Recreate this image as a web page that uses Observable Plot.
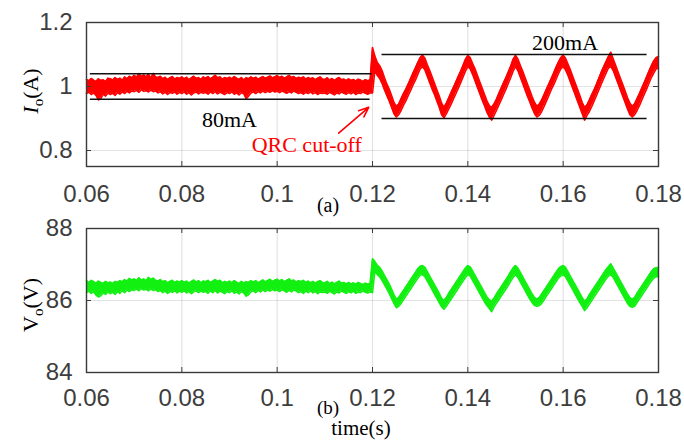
<!DOCTYPE html>
<html>
<head>
<meta charset="utf-8">
<script src="https://cdn.jsdelivr.net/npm/d3@7"></script>
<script src="https://cdn.jsdelivr.net/npm/@observablehq/plot@0.6"></script>
<style>
  body { margin: 0; background: #fff; }
  #chart svg { display: block; }
</style>
</head>
<body>
<div id="chart"></div>
<script>
// Scope record: output current Io and output voltage Vo, sampled every 0.5 ms.
// Each sample keeps the lower and upper edge of the noisy trace.
const sampleStart = 0.06;
const sampleStep = 0.0005;

const timeTicks = [0.06, 0.08, 0.1, 0.12, 0.14, 0.16, 0.18];
const ioTicks = [0.8, 1, 1.2];
const voTicks = [84, 86, 88];

// Io (A), 0.060 .. 0.1195 s: QRC active, then 0.120 .. 0.180 s: QRC cut-off
const ioLo = [
  0.978,0.982,0.975,0.980,0.972,0.958,0.962,0.976,0.970,0.980,
  0.975,0.979,0.972,0.981,0.976,0.983,0.978,0.985,0.980,0.986,
  0.984,0.988,0.982,0.990,0.985,0.987,0.983,0.989,0.984,0.986,
  0.980,0.984,0.977,0.982,0.975,0.981,0.979,0.983,0.976,0.982,
  0.978,0.983,0.976,0.981,0.974,0.980,0.983,0.977,0.982,0.979,
  0.981,0.976,0.983,0.978,0.984,0.977,0.982,0.979,0.975,0.981,
  0.978,0.983,0.976,0.980,0.974,0.981,0.977,0.962,0.970,0.980,
  0.983,0.978,0.984,0.980,0.986,0.981,0.985,0.982,0.987,0.983,
  0.985,0.981,0.986,0.983,0.979,0.984,0.980,0.986,0.982,0.978,
  0.981,0.976,0.982,0.978,0.983,0.977,0.981,0.975,0.980,0.978,
  0.980,0.976,0.982,0.978,0.974,0.980,0.977,0.983,0.979,0.976,
  0.981,0.977,0.982,0.975,0.980,0.978,0.983,0.979,0.976,0.980,
  0.980,1.050,1.035,1.025,1.010,0.990,0.972,0.955,0.935,0.915,
  0.905,0.912,0.925,0.942,0.955,0.972,0.988,1.005,1.020,1.038,
  1.055,1.062,1.052,1.032,1.012,0.992,0.975,0.955,0.935,0.912,
  0.902,0.915,0.930,0.945,0.962,0.978,0.995,1.012,1.030,1.048,
  1.062,1.055,1.038,1.018,0.998,0.978,0.958,0.940,0.920,0.905,
  0.895,0.910,0.925,0.942,0.958,0.975,0.992,1.010,1.028,1.048,
  1.062,1.050,1.030,1.010,0.990,0.970,0.952,0.932,0.915,0.905,
  0.910,0.922,0.938,0.955,0.972,0.990,1.005,1.022,1.040,1.055,
  1.062,1.052,1.035,1.015,0.995,0.975,0.955,0.935,0.915,0.895,
  0.910,0.922,0.938,0.955,0.972,0.990,1.008,1.025,1.042,1.058,
  1.062,1.050,1.030,1.010,0.990,0.970,0.950,0.930,0.912,0.905,
  0.912,0.925,0.940,0.958,0.975,0.992,1.010,1.028,1.042,1.055,
  1.058
];
const ioHi = [
  1.022,1.018,1.025,1.020,1.016,1.024,1.019,1.021,1.015,1.026,
  1.024,1.020,1.028,1.022,1.026,1.019,1.030,1.024,1.032,1.027,
  1.035,1.029,1.040,1.031,1.036,1.030,1.038,1.027,1.041,1.030,
  1.028,1.032,1.024,1.029,1.022,1.027,1.031,1.023,1.028,1.025,
  1.030,1.024,1.029,1.021,1.027,1.032,1.025,1.028,1.022,1.030,
  1.026,1.031,1.024,1.029,1.035,1.027,1.030,1.023,1.028,1.025,
  1.029,1.024,1.031,1.026,1.022,1.028,1.020,1.027,1.024,1.030,
  1.025,1.029,1.023,1.027,1.031,1.026,1.029,1.033,1.027,1.030,
  1.034,1.028,1.032,1.026,1.030,1.035,1.028,1.031,1.025,1.029,
  1.026,1.030,1.023,1.028,1.024,1.027,1.021,1.026,1.030,1.023,
  1.022,1.027,1.020,1.025,1.019,1.024,1.028,1.021,1.023,1.018,
  1.024,1.019,1.022,1.017,1.023,1.020,1.016,1.021,1.018,1.020,
  1.122,1.095,1.075,1.065,1.050,1.028,1.008,0.992,0.972,0.950,
  0.938,0.945,0.962,0.978,0.992,1.008,1.025,1.042,1.058,1.075,
  1.090,1.098,1.088,1.068,1.050,1.030,1.010,0.990,0.970,0.948,
  0.935,0.948,0.965,0.982,0.998,1.015,1.032,1.048,1.066,1.085,
  1.097,1.090,1.072,1.055,1.035,1.015,0.995,0.975,0.955,0.940,
  0.935,0.945,0.960,0.978,0.995,1.012,1.028,1.046,1.064,1.085,
  1.097,1.086,1.066,1.048,1.028,1.008,0.988,0.968,0.950,0.938,
  0.945,0.958,0.975,0.992,1.008,1.025,1.042,1.060,1.076,1.090,
  1.098,1.088,1.070,1.052,1.032,1.012,0.992,0.972,0.950,0.935,
  0.942,0.958,0.975,0.990,1.008,1.026,1.045,1.062,1.078,1.094,
  1.107,1.086,1.066,1.046,1.026,1.006,0.986,0.965,0.948,0.938,
  0.946,0.962,0.978,0.995,1.012,1.030,1.048,1.065,1.080,1.090,
  1.094
];

// Vo (V), same sample times
const voLo = [
  86.22,86.26,86.20,86.24,86.15,86.10,86.13,86.21,86.17,86.24,
  86.19,86.23,86.17,86.25,86.20,86.27,86.22,86.29,86.25,86.30,
  86.28,86.32,86.27,86.33,86.29,86.31,86.27,86.32,86.28,86.30,
  86.25,86.28,86.22,86.26,86.20,86.25,86.23,86.27,86.21,86.26,
  86.23,86.27,86.21,86.25,86.19,86.24,86.27,86.22,86.26,86.23,
  86.25,86.20,86.27,86.22,86.28,86.21,86.26,86.23,86.19,86.25,
  86.22,86.27,86.20,86.24,86.18,86.25,86.21,86.12,86.16,86.24,
  86.27,86.22,86.28,86.24,86.30,86.25,86.29,86.26,86.31,86.27,
  86.29,86.25,86.30,86.27,86.23,86.28,86.24,86.30,86.26,86.22,
  86.25,86.20,86.26,86.22,86.27,86.21,86.25,86.19,86.24,86.22,
  86.24,86.20,86.26,86.22,86.18,86.24,86.21,86.27,86.23,86.20,
  86.25,86.21,86.26,86.20,86.24,86.22,86.27,86.23,86.21,86.24,
  86.22,86.82,86.72,86.66,86.56,86.44,86.32,86.20,86.06,85.92,
  85.80,85.84,85.92,86.02,86.12,86.22,86.32,86.42,86.52,86.62,
  86.70,86.72,86.66,86.54,86.42,86.30,86.18,86.06,85.94,85.82,
  85.76,85.84,85.94,86.04,86.14,86.24,86.34,86.44,86.54,86.64,
  86.72,86.68,86.56,86.44,86.32,86.20,86.08,85.96,85.86,85.78,
  85.69,85.82,85.92,86.02,86.12,86.22,86.32,86.42,86.54,86.64,
  86.72,86.64,86.52,86.40,86.28,86.16,86.04,85.94,85.86,85.84,
  85.86,85.92,86.02,86.12,86.22,86.32,86.42,86.52,86.62,86.68,
  86.72,86.66,86.54,86.42,86.30,86.18,86.06,85.94,85.84,85.72,
  85.80,85.90,86.00,86.10,86.20,86.30,86.40,86.50,86.60,86.68,
  86.72,86.64,86.52,86.40,86.28,86.16,86.04,85.92,85.84,85.81,
  85.84,85.94,86.04,86.14,86.24,86.34,86.44,86.54,86.62,86.66,
  86.66
];
const voHi = [
  86.55,86.50,86.56,86.52,86.48,86.54,86.50,86.47,86.53,86.49,
  86.51,86.47,86.53,86.50,86.55,86.52,86.58,86.54,86.61,86.57,
  86.60,86.55,86.63,86.57,86.60,86.55,86.64,86.58,86.62,86.56,
  86.54,86.58,86.52,86.55,86.49,86.53,86.56,86.50,86.54,86.51,
  86.55,86.50,86.54,86.48,86.53,86.57,86.51,86.55,86.49,86.54,
  86.52,86.56,86.50,86.54,86.58,86.53,86.56,86.49,86.53,86.50,
  86.54,86.49,86.55,86.51,86.47,86.53,86.48,86.52,86.50,86.55,
  86.51,86.55,86.49,86.53,86.57,86.52,86.55,86.59,86.53,86.56,
  86.59,86.54,86.58,86.52,86.56,86.60,86.54,86.57,86.51,86.55,
  86.52,86.56,86.50,86.54,86.49,86.53,86.48,86.52,86.55,86.50,
  86.49,86.53,86.47,86.51,86.46,86.50,86.54,86.48,86.50,86.46,
  86.50,86.46,86.49,86.45,86.50,86.47,86.44,86.48,86.46,86.47,
  87.16,87.08,86.98,86.92,86.82,86.70,86.58,86.46,86.32,86.16,
  86.04,86.08,86.18,86.28,86.38,86.48,86.58,86.68,86.78,86.88,
  86.95,86.97,86.92,86.80,86.68,86.56,86.44,86.32,86.20,86.06,
  86.00,86.08,86.20,86.30,86.40,86.50,86.60,86.70,86.80,86.90,
  86.97,86.93,86.82,86.70,86.58,86.46,86.34,86.22,86.10,86.02,
  85.98,86.06,86.18,86.28,86.38,86.48,86.58,86.68,86.80,86.90,
  86.97,86.90,86.78,86.66,86.54,86.42,86.30,86.18,86.08,86.04,
  86.08,86.18,86.28,86.38,86.48,86.58,86.68,86.78,86.88,86.94,
  86.97,86.92,86.80,86.68,86.56,86.44,86.32,86.20,86.08,85.98,
  86.04,86.16,86.26,86.36,86.46,86.56,86.66,86.76,86.86,86.94,
  87.02,86.90,86.78,86.66,86.54,86.42,86.30,86.18,86.08,86.04,
  86.08,86.20,86.30,86.40,86.50,86.60,86.70,86.80,86.88,86.91,
  86.92
];

// Ripple bands marked on the current trace
const rippleBefore = {lo: 0.96, hi: 1.04, from: 0.0608, to: 0.1199, label: "80mA"};
const rippleAfter = {lo: 0.9, hi: 1.1, from: 0.122, to: 0.1776, label: "200mA"};
const cutoffNote = {text: "QRC cut-off", x: 0.1062, y: 0.817, x1: 0.1129, y1: 0.854, x2: 0.1192, y2: 0.935};

const sampleTime = i => +(sampleStart + i * sampleStep).toFixed(4);
const ioData = ioLo.map((lo, i) => ({t: sampleTime(i), lo, hi: ioHi[i]}));
const voData = voLo.map((lo, i) => ({t: sampleTime(i), lo, hi: voHi[i]}));

const RED = "#ff0000";
const GREEN = "#12f012";
const SANS = "'Liberation Sans', Arial, sans-serif";
const SERIF = "'Liberation Serif', 'Times New Roman', serif";
const TICK_COLOR = "#3d3d3d";

function panelMarks(data, color, yTicks) {
  return [
    Plot.gridX(timeTicks, {stroke: "#000", strokeOpacity: 0.11, strokeWidth: 1.2}),
    Plot.gridY(yTicks, {stroke: "#000", strokeOpacity: 0.11, strokeWidth: 1.2}),
    Plot.areaY(data, {x: "t", y1: "lo", y2: "hi", fill: color}),
    Plot.line(data, {x: "t", y: "lo", stroke: color, strokeWidth: 1.6}),
    Plot.line(data, {x: "t", y: "hi", stroke: color, strokeWidth: 1.6}),
    // inward tick marks on all four sides
    Plot.tickY(yTicks, {y: d => d, stroke: TICK_COLOR, insetRight: 567}),
    Plot.tickY(yTicks, {y: d => d, stroke: TICK_COLOR, insetLeft: 567}),
    Plot.tickX(timeTicks, {x: d => d, stroke: TICK_COLOR, insetTop: 139}),
    Plot.tickX(timeTicks, {x: d => d, stroke: TICK_COLOR, insetBottom: 139}),
    Plot.axisY(yTicks, {tickSize: 0, tickPadding: 14, fontSize: 24, fill: TICK_COLOR, label: null, tickFormat: d => String(d)}),
    Plot.frame({stroke: "#3a3a3a", strokeWidth: 1.4})
  ];
}

const ioPlot = Plot.plot({
  width: 684, height: 220,
  marginLeft: 86, marginRight: 26, marginTop: 22, marginBottom: 54,
  style: {fontFamily: SANS, background: "#fff", overflow: "visible"},
  x: {domain: [0.06, 0.18]},
  y: {domain: [0.75, 1.2]},
  marks: [
    ...panelMarks(ioData, RED, ioTicks),
    Plot.ruleY([rippleBefore.hi], {x1: rippleBefore.from, x2: rippleBefore.to, stroke: "#111", strokeWidth: 1.6}),
    Plot.ruleY([rippleBefore.lo], {x1: rippleBefore.from, x2: rippleBefore.to - 0.0004, stroke: "#111", strokeWidth: 1.6}),
    Plot.ruleY([rippleAfter.hi, rippleAfter.lo], {x1: rippleAfter.from, x2: rippleAfter.to, stroke: "#111", strokeWidth: 1.6}),
    Plot.text([rippleBefore.label], {x: 0.09, y: 0.894, fontFamily: SERIF, fontSize: 22, fill: "#000"}),
    Plot.text([rippleAfter.label], {x: 0.1604, y: 1.137, fontFamily: SERIF, fontSize: 22, fill: "#000"}),
    Plot.text([cutoffNote], {x: "x", y: "y", text: "text", fontFamily: SERIF, fontSize: 22, fill: RED}),
    Plot.arrow([cutoffNote], {x1: "x1", y1: "y1", x2: "x2", y2: "y2", stroke: RED, strokeWidth: 1.6, headLength: 10, headAngle: 45}),
    Plot.axisX(timeTicks, {tickSize: 0, tickPadding: 18, fontSize: 24, fill: TICK_COLOR, label: null, tickFormat: d => String(d), style: "letter-spacing:1.2px"})
  ]
});

const voPlot = Plot.plot({
  width: 684, height: 221,
  marginLeft: 86, marginRight: 26, marginTop: 8, marginBottom: 69,
  style: {fontFamily: SANS, background: "#fff", overflow: "visible"},
  x: {domain: [0.06, 0.18]},
  y: {domain: [84, 88]},
  marks: [
    ...panelMarks(voData, GREEN, voTicks),
    Plot.axisX(timeTicks, {tickSize: 0, tickPadding: 16, fontSize: 24, fill: TICK_COLOR, label: null, tickFormat: d => String(d), style: "letter-spacing:1.2px"})
  ]
});

// Axis titles with subscripts and panel captions
function yTitle(svg, cy, main, italic, unit) {
  const t = d3.select(svg).append("text")
    .attr("transform", `translate(38,${cy}) rotate(-90)`)
    .attr("text-anchor", "middle")
    .attr("font-family", SERIF)
    .attr("font-size", 22)
    .attr("fill", "#000");
  t.append("tspan").attr("font-style", italic ? "italic" : "normal").text(main);
  t.append("tspan").attr("font-size", 15).attr("dy", 5).text("o");
  t.append("tspan").attr("dy", -5).text(unit);
}
function caption(svg, x, y, text, size) {
  d3.select(svg).append("text")
    .attr("x", x).attr("y", y)
    .attr("text-anchor", "middle")
    .attr("font-family", SERIF)
    .attr("font-size", size)
    .attr("fill", "#000")
    .text(text);
}

yTitle(ioPlot, 91, "I", true, "(A)");
caption(ioPlot, 328, 212, "(a)", 20);
yTitle(voPlot, 85, "V", false, "(V)");
caption(voPlot, 328, 194, "(b)", 19);
caption(voPlot, 361, 215, "time(s)", 21);

document.getElementById("chart").append(ioPlot, voPlot);
</script>
</body>
</html>
